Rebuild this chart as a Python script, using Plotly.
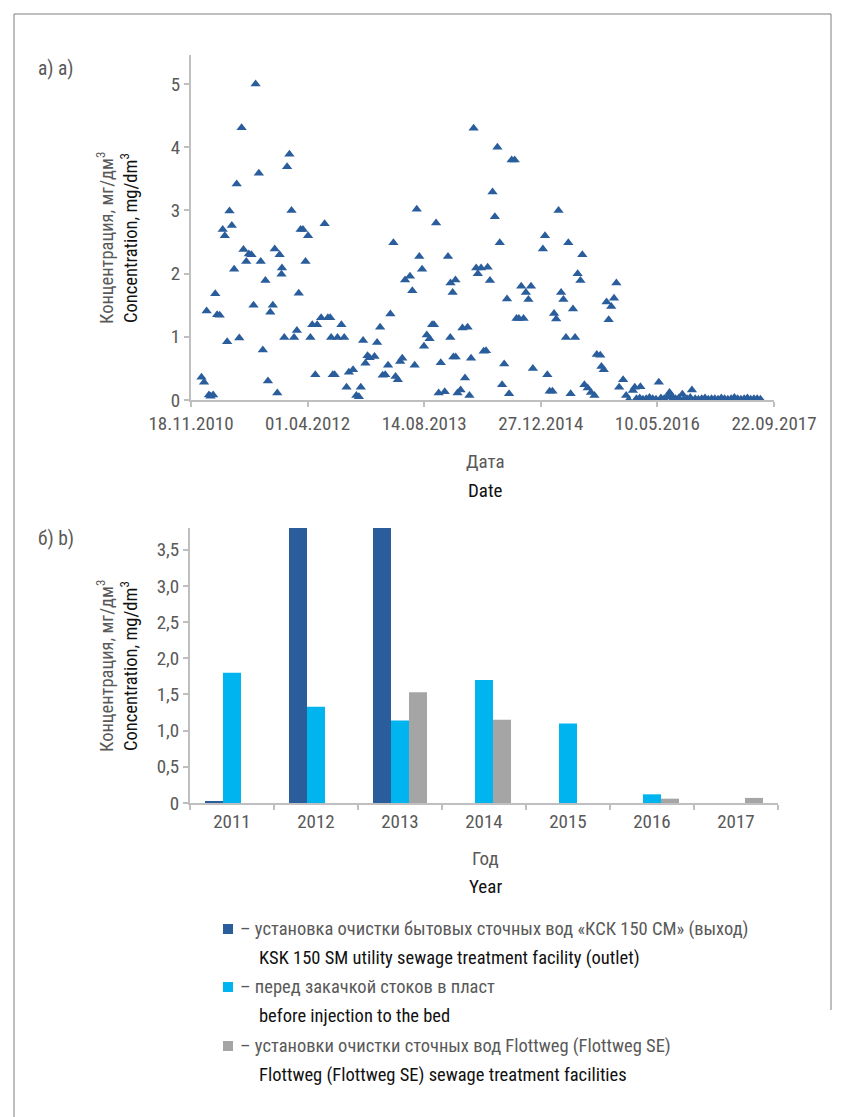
import plotly.graph_objects as go

# ---------------- data: panel a) (scatter of sampled concentrations) ----------------
sample_dates = [
    "2011-01-02", "2011-01-13", "2011-01-24", "2011-02-03", "2011-02-10", "2011-02-21",
    "2011-03-02", "2011-03-10", "2011-03-21", "2011-04-03", "2011-04-12", "2011-04-22",
    "2011-05-02", "2011-05-12", "2011-05-22", "2011-06-02", "2011-06-13", "2011-06-23",
    "2011-07-01", "2011-07-13", "2011-07-24", "2011-08-04", "2011-08-13", "2011-08-22",
    "2011-09-05", "2011-09-13", "2011-09-22", "2011-10-03", "2011-10-14", "2011-10-24",
    "2011-11-04", "2011-11-12", "2011-11-23", "2011-12-03", "2011-12-11", "2011-12-13",
    "2011-12-23", "2012-01-04", "2012-01-14", "2012-01-23", "2012-02-03", "2012-02-15",
    "2012-02-23", "2012-03-02", "2012-03-12", "2012-03-23", "2012-04-03", "2012-04-13",
    "2012-04-21", "2012-05-04", "2012-05-12", "2012-05-29", "2012-06-13", "2012-06-27",
    "2012-07-07", "2012-07-11", "2012-07-18",
    "2012-07-26", "2012-08-07", "2012-08-24", "2012-09-05", "2012-09-15", "2012-09-25",
    "2012-10-13", "2012-10-27", "2012-11-07", "2012-11-15", "2012-11-25", "2012-12-05",
    "2012-12-14", "2012-12-23", "2013-01-13", "2013-01-24", "2013-02-06", "2013-02-17",
    "2013-02-28", "2013-03-12", "2013-03-22", "2013-04-04", "2013-04-13", "2013-04-23",
    "2013-05-03", "2013-05-12", "2013-05-24", "2013-06-14", "2013-06-24", "2013-07-04",
    "2013-07-13", "2013-07-24", "2013-08-05", "2013-08-13", "2013-08-25", "2013-09-06",
    "2013-09-17", "2013-09-25", "2013-10-04", "2013-10-15", "2013-10-24", "2013-11-10",
    "2013-11-24", "2013-12-04", "2013-12-05", "2013-12-14", "2013-12-17", "2013-12-26",
    "2013-12-27", "2014-01-04", "2014-01-17", "2014-01-25", "2014-02-05", "2014-02-16",
    "2014-02-24", "2014-03-03", "2014-03-14", "2014-03-25", "2014-04-01", "2014-04-15",
    "2014-04-26",
    "2014-05-06", "2014-05-13", "2014-05-23", "2014-06-03", "2014-06-13", "2014-06-24",
    "2014-07-04", "2014-07-14", "2014-07-23", "2014-08-04", "2014-08-13", "2014-08-24",
    "2014-09-06", "2014-09-14", "2014-09-24", "2014-10-04", "2014-10-14", "2014-10-24",
    "2014-11-04", "2014-11-15", "2014-11-23", "2015-01-05", "2015-01-14", "2015-01-24",
    "2015-02-03", "2015-02-15", "2015-02-22", "2015-03-03", "2015-03-13", "2015-03-24",
    "2015-04-03", "2015-04-14", "2015-04-24", "2015-05-04", "2015-05-14", "2015-05-23",
    "2015-06-03", "2015-06-15", "2015-06-23", "2015-07-02", "2015-07-16", "2015-07-30",
    "2015-08-14", "2015-08-24", "2015-09-08", "2015-09-13", "2015-09-23", "2015-10-05",
    "2015-10-14", "2015-10-25", "2015-11-06", "2015-11-16", "2015-11-28", "2015-12-15",
    "2015-12-28", "2016-01-08", "2016-01-26", "2016-02-03", "2016-02-27", "2016-05-16",
    "2016-07-01", "2016-07-07", "2016-08-25", "2016-10-05",
    "2016-02-10", "2016-02-24", "2016-03-09", "2016-03-23", "2016-04-06", "2016-04-20",
    "2016-05-04", "2016-05-25", "2016-06-08", "2016-06-22", "2016-07-13", "2016-07-27",
    "2016-08-10", "2016-08-31", "2016-09-14", "2016-09-28", "2016-10-19", "2016-11-02",
    "2016-11-16", "2016-11-30", "2016-12-14", "2016-12-28", "2017-01-11", "2017-01-25",
    "2017-02-08", "2017-02-22", "2017-03-08", "2017-03-22", "2017-04-05", "2017-04-19",
    "2017-05-03", "2017-05-17", "2017-05-31", "2017-06-14", "2017-06-28", "2017-07-12",
    "2017-07-26",
]
sample_conc = [
    0.36, 0.28, 1.41, 0.08, 0.06, 0.08,
    1.68, 1.35, 1.34, 2.70, 2.60, 0.92,
    2.99, 2.76, 2.07, 3.42, 0.98, 4.31,
    2.38, 2.19, 2.31, 2.30, 1.50, 5.00,
    3.59, 2.19, 0.79, 1.89, 0.30, 1.39,
    1.50, 2.39, 0.11, 2.30, 1.99, 2.09,
    0.99, 3.69, 3.89, 3.00, 0.99, 1.10,
    1.69, 2.70, 2.70, 2.19, 2.60, 0.99,
    1.19, 0.40, 1.19, 1.30, 2.79, 1.30,
    1.30, 0.99, 0.40,
    0.40, 0.99, 1.19, 0.99, 0.20, 0.44,
    0.48, 0.07, 0.05, 0.20, 0.94, 0.58,
    0.70, 0.67, 0.69, 0.91, 1.15, 0.39,
    0.40, 0.55, 1.36, 2.49, 0.37, 0.32,
    0.61, 0.66, 1.90, 1.96, 1.73, 0.55,
    3.02, 2.27, 2.07, 0.85, 1.03, 0.97,
    1.19, 1.19, 2.80, 0.11, 0.59, 0.13,
    2.27, 0.99, 1.85, 1.70, 0.68, 1.90,
    0.68, 0.11, 0.16, 1.14, 0.35, 1.15,
    0.07, 0.66, 4.30, 2.09, 2.00, 2.09,
    0.77,
    0.78, 2.10, 1.89, 3.29, 2.90, 4.00,
    2.49, 0.24, 0.57, 1.60, 0.10, 3.80,
    3.80, 1.29, 1.29, 1.80, 1.29, 1.70,
    1.59, 1.80, 0.50, 2.39, 2.60, 0.40,
    0.14, 0.14, 1.37, 1.28, 3.00, 1.70,
    1.59, 0.99, 2.49, 0.10, 1.44, 0.99,
    2.00, 1.89, 2.30, 0.24, 0.19, 0.12,
    0.07, 0.72, 0.71, 0.53, 0.48, 1.55,
    1.27, 1.48, 1.61, 1.85, 0.20, 0.32,
    0.07, 0.00, 0.15, 0.20, 0.21, 0.28,
    0.12, 0.08, 0.09, 0.16,
    0.02, 0.03, 0.01, 0.02, 0.04, 0.02,
    0.01, 0.03, 0.02, 0.05, 0.01, 0.02,
    0.03, 0.01, 0.02, 0.04, 0.02, 0.01,
    0.02, 0.03, 0.01, 0.02, 0.02, 0.01,
    0.03, 0.02, 0.01, 0.02, 0.04, 0.02,
    0.01, 0.02, 0.03, 0.01, 0.02, 0.02,
    0.01,
]

date_ticks = ["2010-11-18", "2012-04-01", "2013-08-14", "2014-12-27", "2016-05-10", "2017-09-22"]
date_tick_labels = ["18.11.2010", "01.04.2012", "14.08.2013", "27.12.2014", "10.05.2016", "22.09.2017"]

# ---------------- data: panel b) (annual concentrations) ----------------
years = ["2011", "2012", "2013", "2014", "2015", "2016", "2017"]
ksk_outlet = [0.02, 3.8, 3.8, 0.0, 0.0, 0.0, 0.0]
before_injection = [1.80, 1.33, 1.14, 1.70, 1.10, 0.12, 0.0]
flottweg = [0.0, 0.0, 1.53, 1.15, 0.0, 0.06, 0.07]

bar_y_ticks = [0, 0.5, 1.0, 1.5, 2.0, 2.5, 3.0, 3.5]
bar_y_labels = ["0", "0,5", "1,0", "1,5", "2,0", "2,5", "3,0", "3,5"]

legend_ru = [
    "– установка очистки бытовых сточных вод «КСК 150 СМ» (выход)",
    "– перед закачкой стоков в пласт",
    "– установки очистки сточных вод Flottweg (Flottweg SE)",
]
legend_en = [
    "KSK 150 SM utility sewage treatment facility (outlet)",
    "before injection to the bed",
    "Flottweg (Flottweg SE) sewage treatment facilities",
]

# ---------------- styling ----------------
W, H = 845, 1117
FONT = "Roboto Condensed, Liberation Sans Narrow, DejaVu Sans Condensed, Roboto, sans-serif"
GREY_TXT = "#595959"
BLACK_TXT = "#111111"
AXIS_GREY = "#bfbfbf"
DARK_BLUE = "#2a5d9b"
CYAN = "#00b4ef"
GREY_BAR = "#a5a5a5"


def px_x(x):
    return x / W


def px_y(y):
    return 1 - y / H


fig = go.Figure()

fig.add_trace(go.Scatter(
    x=sample_dates, y=sample_conc, mode="markers",
    marker=dict(symbol="triangle-up", size=9, color=DARK_BLUE),
    xaxis="x", yaxis="y", showlegend=False,
))

bar_series = [(ksk_outlet, DARK_BLUE), (before_injection, CYAN), (flottweg, GREY_BAR)]
for vals, col in bar_series:
    fig.add_trace(go.Bar(
        x=years, y=vals, marker=dict(color=col, line=dict(width=0)),
        xaxis="x2", yaxis="y2", showlegend=False,
    ))

tick_font = dict(family=FONT, size=19, color=GREY_TXT)
axis_common = dict(
    showgrid=False, zeroline=False, automargin=False,
    showline=True, linecolor=AXIS_GREY, linewidth=2,
    ticks="outside", ticklen=5, tickcolor=AXIS_GREY, tickwidth=1.5,
    tickfont=tick_font,
)

fig.update_layout(
    template="none",
    width=W, height=H, autosize=False,
    margin=dict(l=0, r=0, t=0, b=0, pad=0, autoexpand=False),
    paper_bgcolor="white", plot_bgcolor="white",
    font=dict(family=FONT),
    showlegend=False,
    barmode="group", bargap=0.357, bargroupgap=0,
    xaxis=dict(
        domain=[px_x(191), px_x(774)], anchor="y", type="date",
        range=["2010-11-18", "2017-09-22"],
        tickvals=date_ticks, ticktext=date_tick_labels,
        **axis_common,
    ),
    yaxis=dict(
        domain=[px_y(400), px_y(55)], anchor="x",
        range=[0, 5.46], tickvals=[0, 1, 2, 3, 4, 5],
        **axis_common,
    ),
    xaxis2=dict(
        domain=[px_x(190), px_x(778)], anchor="y2", type="category",
        tickson="boundaries",
        **axis_common,
    ),
    yaxis2=dict(
        domain=[px_y(803), px_y(528)], anchor="x2",
        range=[0, 3.8], tickvals=bar_y_ticks, ticktext=bar_y_labels,
        **axis_common,
    ),
)

annotations = []


def text(x, y, s, color, size=18.5, anchor="center", angle=0):
    annotations.append(dict(
        x=px_x(x), y=px_y(y), xref="paper", yref="paper", text=s,
        showarrow=False, xanchor=anchor, yanchor="middle", textangle=angle,
        font=dict(family=FONT, size=size, color=color),
    ))


# panel labels
text(36, 68, "а) a)", GREY_TXT, size=19.5, anchor="left")
text(36, 538, "б) b)", GREY_TXT, size=19.5, anchor="left")

# axis titles, panel a)
text(105, 238, "Концентрация, мг/дм<sup>3</sup>", GREY_TXT, angle=-90)
text(129, 238, "Concentration, mg/dm<sup>3</sup>", BLACK_TXT, angle=-90)
text(485, 462, "Дата", GREY_TXT, size=19)
text(485, 490, "Date", BLACK_TXT, size=19)

# axis titles, panel b)
text(105, 666, "Концентрация, мг/дм<sup>3</sup>", GREY_TXT, angle=-90)
text(129, 666, "Concentration, mg/dm<sup>3</sup>", BLACK_TXT, angle=-90)
text(485, 858, "Год", GREY_TXT, size=19)
text(485, 886, "Year", BLACK_TXT, size=19)

# legend for panel b)
shapes = []
legend_rows = [929, 987, 1046]
for (vals, col), row, ru, en in zip(bar_series, legend_rows, legend_ru, legend_en):
    shapes.append(dict(
        type="rect", xref="paper", yref="paper",
        x0=px_x(223), x1=px_x(233), y0=px_y(row + 5), y1=px_y(row - 5),
        fillcolor=col, line=dict(width=0),
    ))
    text(238, row, ru, GREY_TXT, anchor="left")
    text(257, row + 29, en, BLACK_TXT, anchor="left")

# page frame
frame = dict(color="#7f7f7f", width=1)
shapes.append(dict(type="line", xref="paper", yref="paper",
                   x0=px_x(14), x1=px_x(831), y0=px_y(14), y1=px_y(14), line=frame))
shapes.append(dict(type="line", xref="paper", yref="paper",
                   x0=px_x(14), x1=px_x(14), y0=px_y(14), y1=px_y(1117), line=frame))
shapes.append(dict(type="line", xref="paper", yref="paper",
                   x0=px_x(831), x1=px_x(831), y0=px_y(14), y1=px_y(1010), line=frame))

fig.update_layout(annotations=annotations, shapes=shapes)

fig.write_html("out.html")
